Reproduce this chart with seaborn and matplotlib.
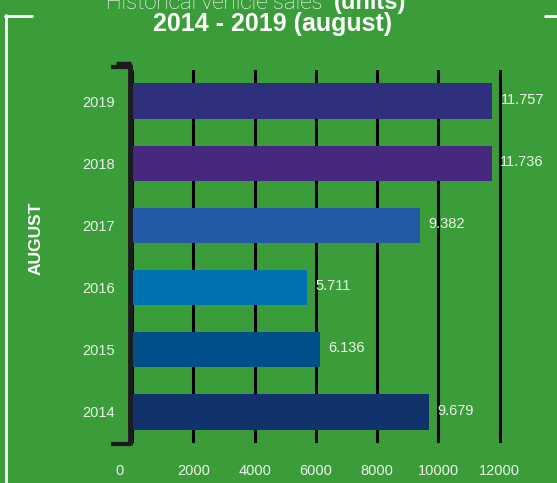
# === Librerías ===
import numpy as np
import pandas as pd
import matplotlib
matplotlib.use("Agg")
import matplotlib.pyplot as plt
from matplotlib.lines import Line2D
from matplotlib.transforms import ScaledTranslation
import seaborn as sns

# === Datos ===
years = ["2019", "2018", "2017", "2016", "2015", "2014"]
sales = [11757, 11736, 9382, 5711, 6136, 9679]
bar_colors = ["#2e2f7d", "#46287f", "#2459a4", "#0071b0", "#004f89", "#0f336a"]
x_ticks = [0, 2000, 4000, 6000, 8000, 10000, 12000]

df = pd.DataFrame({"year": years, "sales": sales})

# === Estilo ===
bg = "#3a9d3a"
txt = "#eef5ea"
sns.set_theme(style="white")
plt.rcParams["font.family"] = ["Liberation Sans", "DejaVu Sans"]

fig = plt.figure(figsize=(5.57, 4.83), dpi=100, facecolor=bg)
W, H = 557, 483
ax = fig.add_axes([132 / W, 1 - 443 / H, 413 / W, 373 / H])
ax.set_facecolor(bg)

sns.barplot(data=df, x="sales", y="year", hue="year", order=years,
            palette=dict(zip(years, bar_colors)), legend=False,
            width=0.57, orient="h", saturation=1, linewidth=0, ax=ax)

ax.set_xlim(0, 13475)
ax.set_ylim(5.5, -0.5)
ax.set_xticks(x_ticks)
ax.set_xlabel("")
ax.set_ylabel("")
ax.grid(axis="x", color="black", linewidth=2.2)
ax.set_axisbelow(True)
ax.tick_params(axis="x", length=0, pad=15, labelsize=10.5, labelcolor=txt)
ax.tick_params(axis="y", length=0, pad=12, labelsize=10.5, labelcolor=txt)
for s in ["top", "right", "bottom", "left"]:
    ax.spines[s].set_visible(False)

# el "0" va algo desplazado a la izquierda
lab0 = ax.get_xticklabels()[0]
lab0.set_transform(lab0.get_transform() + ScaledTranslation(-0.12, 0, fig.dpi_scale_trans))

# valores al final de cada barra
for i, v in enumerate(sales):
    ax.annotate(f"{v:,}".replace(",", "."), (v, i), xytext=(6, 1),
                textcoords="offset points", va="center", ha="left",
                fontsize=10.5, color=txt)

# eje izquierdo tipo corchete
def px_line(xs, ys, **kw):
    fig.add_artist(Line2D([x / W for x in xs], [1 - y / H for y in ys],
                          transform=fig.transFigure, **kw))

dark = "#1c1c1c"
px_line([129.5, 129.5], [64, 445], color=dark, lw=3.5, solid_capstyle="butt")
px_line([111, 131], [67, 67], color=dark, lw=3, solid_capstyle="butt")
px_line([116, 131], [63, 63], color=dark, lw=2.5, solid_capstyle="butt")
px_line([111, 131], [443.5, 443.5], color=dark, lw=3, solid_capstyle="butt")

# marco blanco
px_line([5.5, 5.5], [15, 483], color="white", lw=2)
px_line([5, 32], [15.5, 15.5], color="white", lw=2)
px_line([545, 557], [15.5, 15.5], color="white", lw=2)

# títulos
fig.text(328 / W, 1 - 9 / H, "Historical vehicle sales ", ha="right", va="baseline",
         fontsize=16, color="white", fontweight="light",
         family=["Roboto", "DejaVu Sans"])
fig.text(334 / W, 1 - 9 / H, "(units)", ha="left", va="baseline",
         fontsize=17, color="white", fontweight="bold")
fig.text(273 / W, 1 - 31 / H, "2014 - 2019 (august)", ha="center", va="baseline",
         fontsize=18, color="white", fontweight="bold")
fig.text(36 / W, 1 - 238 / H, "AUGUST", ha="center", va="center", rotation=90,
         fontsize=12.5, color="white", fontweight="bold")

fig.savefig("out.png", dpi=100, facecolor=bg)
